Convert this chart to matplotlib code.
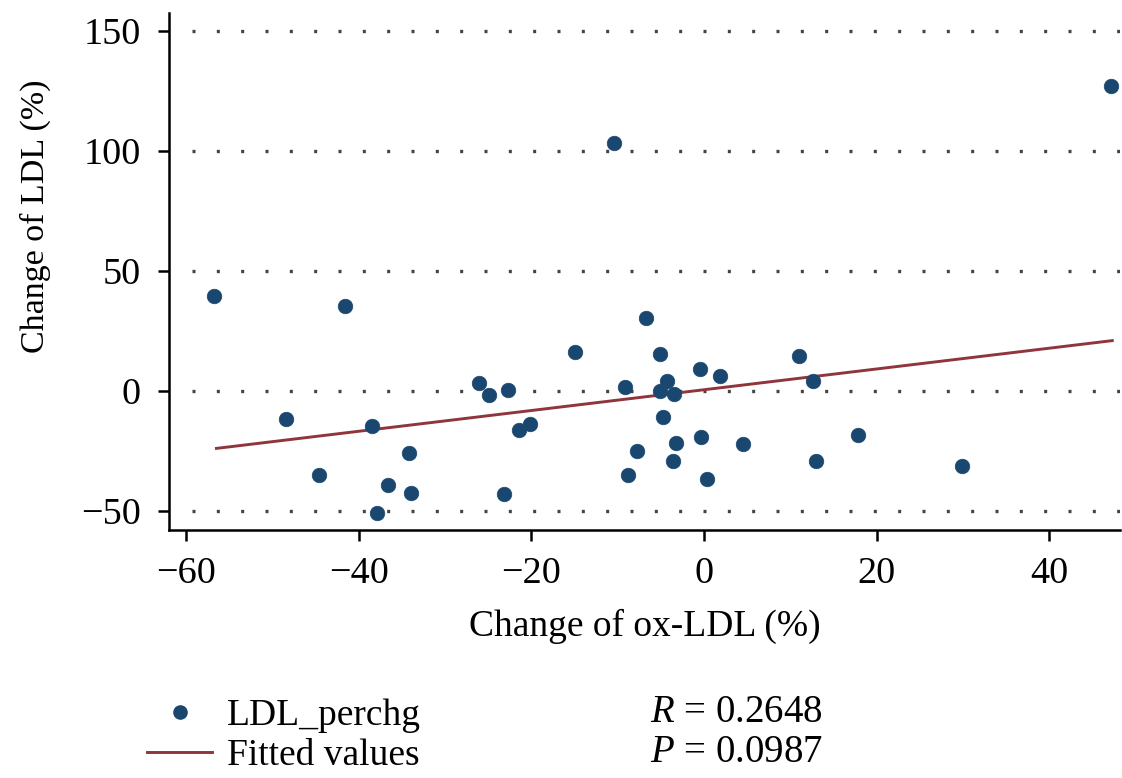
import matplotlib
matplotlib.use("Agg")
import matplotlib.pyplot as plt
from matplotlib.lines import Line2D

# ---- data ----
ox_ldl_change = [47.2, -10.4, -56.8, -41.6, -6.7, -14.9, -5.1, 11.0, -0.5, 1.9,
                 12.6, -26.1, -9.2, -4.3, -5.1, -3.5, -24.9, -22.7, -4.7, -48.4,
                 -38.5, -21.5, -20.2, 17.8, -0.3, -3.2, 4.5, -34.2, -7.8, -3.6,
                 13.0, 29.9, -8.8, 0.4, -44.6, -36.6, -33.9, -23.2, -37.9]
ldl_change = [127.1, 103.3, 39.5, 35.6, 30.6, 16.2, 15.6, 14.5, 9.1, 6.1,
              4.2, 3.2, 1.7, 4.3, 0.1, -1.4, -1.8, 0.3, -10.7, -11.8,
              -14.6, -16.2, -13.9, -18.3, -19.0, -21.8, -22.1, -25.8, -25.0, -29.0,
              -29.3, -31.1, -35.1, -36.5, -35.1, -39.3, -42.5, -42.8, -50.8]
fit_x = [-56.5, 47.3]
fit_y = [-23.9, 21.0]
x_ticks = [-60, -40, -20, 0, 20, 40]
y_ticks = [-50, 0, 50, 100, 150]
r_text = "$R$ = 0.2648"
p_text = "$P$ = 0.0987"

plt.rcParams['font.family'] = ['Liberation Serif', 'DejaVu Serif']
plt.rcParams['mathtext.fontset'] = 'custom'
plt.rcParams['mathtext.rm'] = 'Liberation Serif'
plt.rcParams['mathtext.it'] = 'Liberation Serif:italic'

navy = '#1a476f'
maroon = '#90353b'

fig = plt.figure(figsize=(11.22, 7.78), dpi=100)
ax = fig.add_axes([169/1122, 1-530/778, (1120-169)/1122, (530-13)/778])

ax.set_xlim(-62.0, 48.2)
ax.set_ylim(-57.9, 157.5)

for yv in y_ticks:
    ax.axhline(yv, xmin=0.024, xmax=1.0, color='#444444', lw=2.4,
               linestyle=(0, (0.9, 6.4)), zorder=1)

ax.scatter(ox_ldl_change, ldl_change, s=110, color=navy, edgecolors=navy,
           linewidths=0.5, zorder=3, label='LDL_perchg')
ax.plot(fit_x, fit_y, color=maroon, lw=2.1, zorder=2, label='Fitted values')

ax.spines['top'].set_visible(False)
ax.spines['right'].set_visible(False)
ax.spines['left'].set_linewidth(1.8)
ax.spines['bottom'].set_linewidth(1.8)

ax.set_xticks(x_ticks)
ax.set_xticklabels([str(t).replace('-', '\u2212') for t in x_ticks])
ax.set_yticks(y_ticks)
ax.set_yticklabels([str(t).replace('-', '\u2212') for t in y_ticks])
ax.tick_params(axis='both', direction='out', length=8, width=1.8, labelsize=27.5,
               color='black')
ax.tick_params(axis='y', pad=12.5)
ax.tick_params(axis='x', pad=11)

ax.set_xlabel('Change of ox-LDL (%)', fontsize=27)
ax.xaxis.set_label_coords(0.5, -0.153)
ax.set_ylabel('Change of LDL (%)', fontsize=24.5)
ax.yaxis.set_label_coords(-0.124, 0.607)

handles = [Line2D([], [], marker='o', linestyle='none', color=navy, markersize=9.5),
           Line2D([], [], color=maroon, lw=2.1)]
fig.legend(handles, ['LDL_perchg', 'Fitted values'], loc='upper left',
           bbox_to_anchor=(128/1122, 1-680/778), frameon=False, fontsize=27,
           handlelength=1.75, handletextpad=0.4, labelspacing=0.15, borderpad=0)

fig.text(650/1122, 1-712/778, r_text, fontsize=28, va='center', ha='left')
fig.text(650/1122, 1-753/778, p_text, fontsize=28, va='center', ha='left')

fig.savefig('out.png', dpi=100)
